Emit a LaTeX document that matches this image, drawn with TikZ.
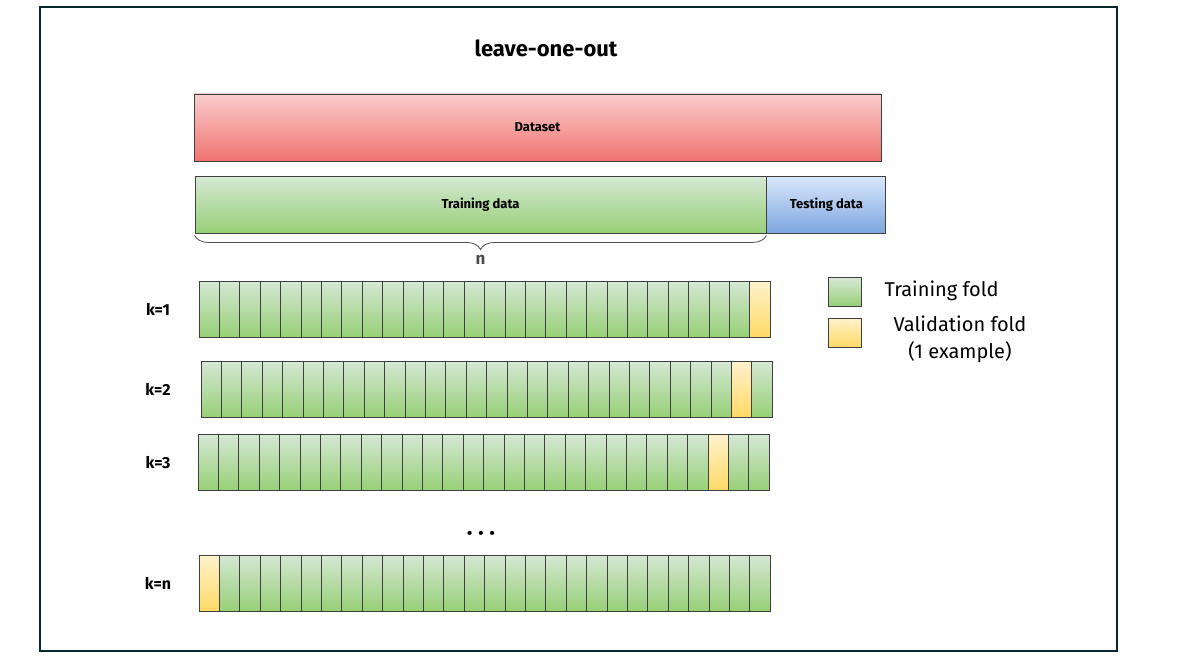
\documentclass[tikz,border=0pt]{standalone}
\usepackage{fontspec}
\setmainfont{Fira Sans}
\usetikzlibrary{decorations.pathreplacing}
\definecolor{frm}{HTML}{06282A}
\definecolor{redtop}{HTML}{F9CDCC}
\definecolor{redbot}{HTML}{F07470}
\definecolor{grtop}{HTML}{D5E8D4}
\definecolor{grbot}{HTML}{97D077}
\definecolor{bltop}{HTML}{DAE8FC}
\definecolor{blbot}{HTML}{7EA6E0}
\definecolor{yetop}{HTML}{FFF2CC}
\definecolor{yebot}{HTML}{FFD966}
\tikzset{
  box/.style={draw=black!75, line width=.9pt, inner sep=0pt, font=\bfseries\fontsize{13}{15}\selectfont},
  train/.style={top color=grtop, bottom color=grbot},
  valid/.style={top color=yetop, bottom color=yebot},
  cell/.style={draw=black!75, line width=.8pt, minimum width=20.4pt, minimum height=56pt, inner sep=0pt},
  klab/.style={font=\bfseries\fontsize{16}{19}\selectfont},
  leg/.style={font=\fontsize{20}{27}\selectfont, align=center}
}
\begin{document}
\begin{tikzpicture}[x=1pt, y=-1pt]
\useasboundingbox (0,0) rectangle (1203,669);
\draw[frm, line width=2pt] (40,7) rectangle (1117,651);
\node[font=\bfseries\fontsize{22}{26}\selectfont] (title) at (546,48) {leave-one-out};
% dataset split
\node[box, top color=redtop, bottom color=redbot, minimum width=687pt, minimum height=67pt] (data) at (537.5,127.5) {Dataset};
\node[box, train, minimum width=571pt, minimum height=57pt] (tr) at (480.5,204.5) {Training data};
\node[box, top color=bltop, bottom color=blbot, minimum width=119pt, minimum height=57pt, anchor=west] (te) at (tr.east) {Testing data};
\draw[black!70, line width=.8pt, decorate, decoration={brace, mirror, amplitude=14pt}] ([yshift=-2pt]tr.south west) -- ([yshift=-2pt]tr.south east)
  node[midway, below=16pt, font=\bfseries\fontsize{17}{20}\selectfont] (n) {n};
% folds
\foreach \k/\y/\v/\x in {1/309/28/199, 2/389/27/201, 3/462.5/26/198, n/583/1/199} {
  \node[klab] (k\k) at (158,\y) {k=\k};
  \foreach \i in {1,...,28} {
    \ifnum\i=\v \def\st{valid}\else\def\st{train}\fi
    \node[cell, \st] (c\k-\i) at (\x+\i*20.4-10.2,\y) {};
  }
}
\node[font=\bfseries\fontsize{15}{18}\selectfont] (dots) at (481,535) {\textbullet\hspace{6pt}\textbullet\hspace{6pt}\textbullet};
% legend
\node[draw=black!75, line width=.8pt, train, minimum width=33pt, minimum height=29pt] (lg1) at (844.5,292) {};
\node[draw=black!75, line width=.8pt, valid, minimum width=33pt, minimum height=29pt] (lg2) at (844.5,332.5) {};
\node[leg, anchor=west] (lt1) at (881,291) {Training fold};
\node[leg] (lt2) at (960,339) {Validation fold\\(1 example)};
\end{tikzpicture}
\end{document}
